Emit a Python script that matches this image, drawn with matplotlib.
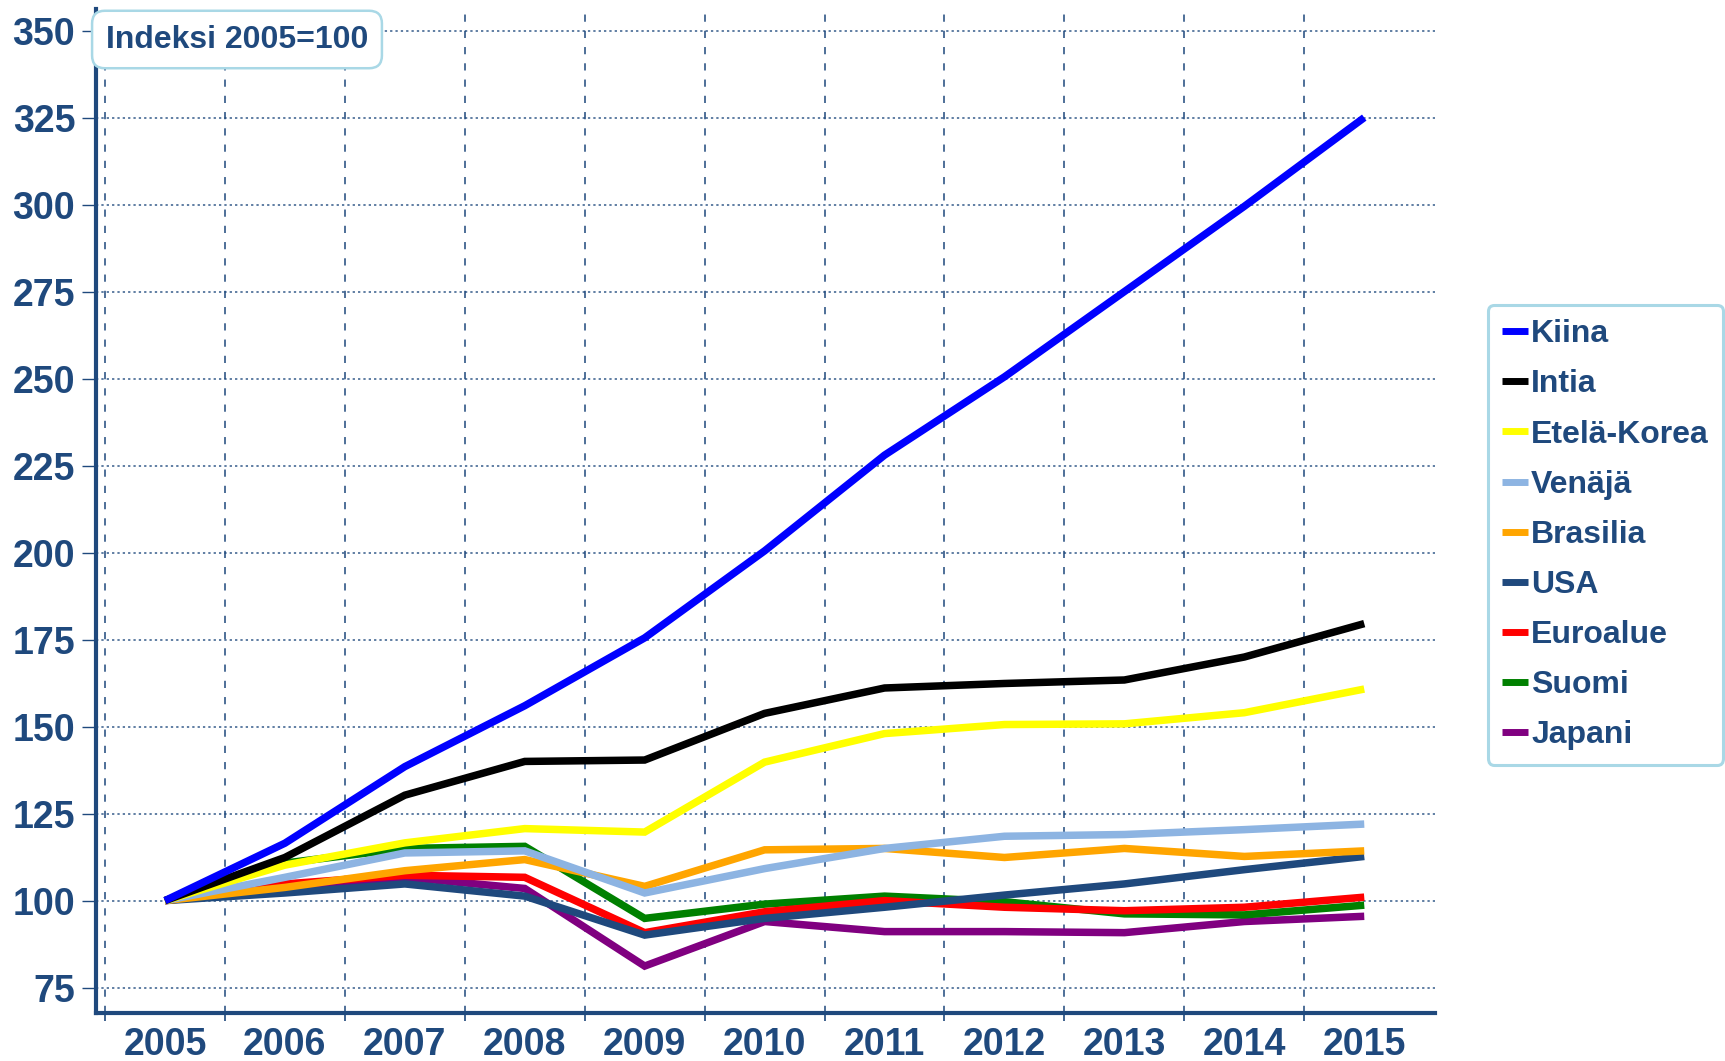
"""
Indeksi 2005=100: selected economies 2005-2015, line chart.
"""

import matplotlib.pyplot as plt
from matplotlib.ticker import FixedLocator

years = ["2005", "2006", "2007", "2008", "2009", "2010",
         "2011", "2012", "2013", "2014", "2015"]

kiina = [100, 116.5, 138.5, 156, 175.5, 200.5, 228, 250.5, 275, 299.5, 325]
intia = [100, 112.4, 130.3, 140, 140.4, 153.8, 161.1, 162.4, 163.4, 170, 179.6]
etela_korea = [100, 110.2, 116.6, 120.7, 119.7, 139.8, 148, 150.6, 150.8, 154, 160.8]
venaja = [100, 106.7, 113.7, 114.3, 102.2, 109.2, 115, 118.5, 119, 120.4, 122]
brasilia = [100, 103.8, 108.6, 111.8, 104.1, 114.6, 115, 112.4, 115, 112.7, 114.3]
usa = [100, 102.2, 104.8, 101.3, 90.1, 94.9, 98.1, 101.6, 104.8, 108.9, 112.7]
euroalue = [100, 104.8, 107.3, 106.7, 90.8, 96.8, 100, 98.1, 97.1, 98.1, 101]
suomi = [100, 110.8, 115, 115.6, 94.9, 99, 101.3, 99.7, 96.2, 95.9, 98.7]
japani = [100, 103.8, 106.7, 103.5, 81.2, 94, 91.1, 91.1, 90.8, 94, 95.5]

series = [
    ("Kiina", kiina, "#0000FF"),
    ("Intia", intia, "#000000"),
    ("Etelä-Korea", etela_korea, "#FFFF00"),
    ("Venäjä", venaja, "#8DB4E2"),
    ("Brasilia", brasilia, "#FFA500"),
    ("USA", usa, "#1F497D"),
    ("Euroalue", euroalue, "#FF0000"),
    ("Suomi", suomi, "#008000"),
    ("Japani", japani, "#800080"),
]

y_ticks = [75, 100, 125, 150, 175, 200, 225, 250, 275, 300, 325, 350]

NAVY = "#1F497D"
plt.rcParams["font.family"] = ["Liberation Sans", "DejaVu Sans"]
plt.rcParams["font.weight"] = "bold"

W, H = 1725, 1061
fig = plt.figure(figsize=(W / 100, H / 100), dpi=100)
ax = fig.add_axes([96 / W, 1 - 1012.7 / H, (1435 - 96) / W, (1012.7 - 9) / H])

x = list(range(len(years)))
n = len(series)
for i, (name, vals, color) in enumerate(series):
    # Kiina on top, Japani at the bottom
    ax.plot(x, vals, color=color, lw=5.4, label=name, zorder=3 + n - i,
            solid_capstyle="butt", solid_joinstyle="miter")

ax.set_xlim(-0.575, 10.59)
ax.set_ylim(67.8, 356.2)

ax.set_xticks(x)
ax.set_xticklabels(years)
ax.xaxis.set_minor_locator(FixedLocator([i - 0.5 for i in range(len(years))]))
ax.set_yticks(y_ticks)

ax.tick_params(axis="x", which="major", length=0, pad=10,
               labelsize=27, labelcolor=NAVY)
ax.tick_params(axis="x", which="minor", length=6, width=1.2, color=NAVY,
               direction="out")
ax.tick_params(axis="y", which="major", length=10, width=1, color=NAVY,
               pad=5, labelsize=27, labelcolor=NAVY)

ax.grid(True, axis="y", which="major", color=NAVY, lw=1.1,
        linestyle=(0, (1.5, 2)), alpha=0.9)
ax.grid(True, axis="x", which="minor", color=NAVY, lw=1.3,
        linestyle=(0, (4, 5)), alpha=0.85)
ax.set_axisbelow(True)

for side in ("top", "right"):
    ax.spines[side].set_visible(False)
for side in ("left", "bottom"):
    ax.spines[side].set_color(NAVY)
    ax.spines[side].set_linewidth(3)

leg = ax.legend(loc="upper left", bbox_to_anchor=(1488 / W, 1 - 305 / H),
                bbox_transform=fig.transFigure, borderaxespad=0,
                fontsize=23, handlelength=0.8, handletextpad=0.1,
                labelspacing=0.63, borderpad=0.45, frameon=True,
                fancybox=True, edgecolor="#A9D8E6", framealpha=1)
leg.get_frame().set_linewidth(2.2)
for t in leg.get_texts():
    t.set_color(NAVY)
    t.set_fontweight("bold")
for h in leg.get_lines():
    h.set_linewidth(5)

fig.text(237 / W, 1 - 39.5 / H, "Indeksi 2005=100", ha="center", va="center",
         fontsize=23, color=NAVY, fontweight="bold",
         bbox=dict(boxstyle="round,pad=0.43,rounding_size=0.4",
                   fc="white", ec="#A9D8E6", lw=1.8))

fig.savefig("out.png", dpi=100)
